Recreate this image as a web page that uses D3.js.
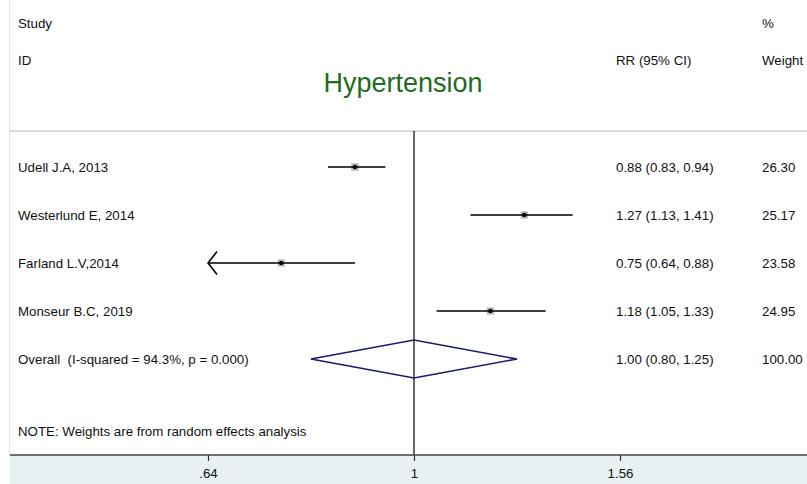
<!DOCTYPE html>
<html>
<head>
<meta charset="utf-8">
<script src="https://cdn.jsdelivr.net/npm/d3@7/dist/d3.min.js"></script>
<style>
  html, body { margin: 0; padding: 0; background: #fff; }
  svg text { font-family: "Liberation Sans", Arial, sans-serif; fill: #111; white-space: pre; }
</style>
</head>
<body>
<div id="chart"></div>
<script>
// dati dello studio
const studies = ["Udell J.A, 2013", "Westerlund E, 2014", "Farland L.V,2014", "Monseur B.C, 2019"];
const rr = [0.88, 1.27, 0.75, 1.18];
const lower = [0.83, 1.13, 0.64, 1.05];
const upper = [0.94, 1.41, 0.88, 1.33];
const weights = [26.30, 25.17, 23.58, 24.95];
const ciLabels = ["0.88 (0.83, 0.94)", "1.27 (1.13, 1.41)", "0.75 (0.64, 0.88)", "1.18 (1.05, 1.33)"];

const overallLabel = "Overall  (I-squared = 94.3%, p = 0.000)";
const overall = { rr: 1.00, lo: 0.80, hi: 1.25, weight: "100.00", ci: "1.00 (0.80, 1.25)" };

const tickValues = [0.64, 1, 1.5625];
const tickLabels = [".64", "1", "1.56"];

const W = 807, H = 484;
const plotTop = 131, plotBottom = 455;
const FS = 13.3;

const svg = d3.select("#chart").append("svg")
  .attr("width", W)
  .attr("height", H);

// scala logaritmica per RR
const x = d3.scaleLog().domain([0.64, 1.5625]).range([208, 620]);
const xMin = x.domain()[0];

// righe: 4 studi + overall
const y = d3.scaleLinear().domain([0, 1]).range([167, 215]);

// banda dell'asse in basso
svg.append("rect")
  .attr("x", 10).attr("y", plotBottom)
  .attr("width", W - 10).attr("height", H - plotBottom)
  .attr("fill", "#e8f0f3");

// bordino sinistro e linea grigia in alto
svg.append("line")
  .attr("x1", 9.5).attr("x2", 9.5).attr("y1", 0).attr("y2", plotBottom)
  .attr("stroke", "#e4e4e4");
svg.append("line")
  .attr("x1", 10).attr("x2", W).attr("y1", plotTop).attr("y2", plotTop)
  .attr("stroke", "#cfcfcf").attr("stroke-width", 1.5);

// intestazioni
const header = svg.append("g").attr("font-size", FS);
header.append("text").attr("x", 18).attr("y", 23).attr("dy", ".35em").text("Study");
header.append("text").attr("x", 18).attr("y", 60).attr("dy", ".35em").text("ID");
header.append("text").attr("x", 616).attr("y", 60).attr("dy", ".35em").text("RR (95% CI)");
header.append("text").attr("x", 762).attr("y", 23).attr("dy", ".35em").text("%");
header.append("text").attr("x", 762).attr("y", 60).attr("dy", ".35em").text("Weight");

svg.append("text")
  .attr("x", 403).attr("y", 83).attr("dy", ".35em")
  .attr("text-anchor", "middle")
  .attr("font-size", 27)
  .style("fill", "#1f6b1f")
  .text("Hypertension");

// linea di nessun effetto
svg.append("line")
  .attr("x1", x(1)).attr("x2", x(1))
  .attr("y1", plotTop).attr("y2", plotBottom)
  .attr("stroke", "#000").attr("stroke-width", 1.2);

// studi
const size = d3.scaleSqrt().domain([0, 30]).range([0, 8]);
const rows = svg.append("g").selectAll("g")
  .data(studies.map((s, i) => ({ s, i, rr: rr[i], lo: lower[i], hi: upper[i], w: weights[i], ci: ciLabels[i] })))
  .enter().append("g");

rows.append("rect")
  .attr("x", d => x(d.rr) - size(d.w) / 2)
  .attr("y", d => y(d.i) - size(d.w) / 2)
  .attr("width", d => size(d.w))
  .attr("height", d => size(d.w))
  .attr("fill", "#b9b9b9");

rows.append("line")
  .attr("x1", d => x(Math.max(d.lo, xMin)))
  .attr("x2", d => x(d.hi))
  .attr("y1", d => y(d.i)).attr("y2", d => y(d.i))
  .attr("stroke", "#000").attr("stroke-width", 1.6);

// freccia quando l'IC esce dall'asse (0.64 arrotondato)
rows.filter(d => d.lo <= xMin)
  .append("path")
  .attr("d", d => {
    const x0 = x(xMin), y0 = y(d.i);
    return "M" + (x0 + 9) + "," + (y0 - 11.5) + "L" + x0 + "," + y0 + "L" + (x0 + 9) + "," + (y0 + 11.5);
  })
  .attr("fill", "none").attr("stroke", "#000").attr("stroke-width", 1.6);

rows.append("circle")
  .attr("cx", d => x(d.rr)).attr("cy", d => y(d.i))
  .attr("r", 2.2).attr("fill", "#000");

rows.append("text").attr("font-size", FS)
  .attr("x", 18).attr("y", d => y(d.i)).attr("dy", ".35em").text(d => d.s);
rows.append("text").attr("font-size", FS)
  .attr("x", 616).attr("y", d => y(d.i)).attr("dy", ".35em").text(d => d.ci);
rows.append("text").attr("font-size", FS)
  .attr("x", 762).attr("y", d => y(d.i)).attr("dy", ".35em").text(d => d.w.toFixed(2));

// overall (diamante)
const yo = y(4);
svg.append("path")
  .attr("d", "M" + x(overall.lo) + "," + yo +
    "L" + x(overall.rr) + "," + (yo - 19) +
    "L" + x(overall.hi) + "," + yo +
    "L" + x(overall.rr) + "," + (yo + 19) + "Z")
  .attr("fill", "none").attr("stroke", "#1b1b6b").attr("stroke-width", 1.6);

svg.append("text").attr("font-size", FS)
  .attr("x", 18).attr("y", yo).attr("dy", ".35em").text(overallLabel);
svg.append("text").attr("font-size", FS)
  .attr("x", 616).attr("y", yo).attr("dy", ".35em").text(overall.ci);
svg.append("text").attr("font-size", FS)
  .attr("x", 762).attr("y", yo).attr("dy", ".35em").text(overall.weight);

svg.append("text").attr("font-size", FS)
  .attr("x", 18).attr("y", y(5.5)).attr("dy", ".35em")
  .text("NOTE: Weights are from random effects analysis");

// asse x
const axis = svg.append("g")
  .attr("transform", "translate(0," + plotBottom + ")")
  .call(d3.axisBottom(x).tickValues(tickValues).tickFormat((d, i) => tickLabels[i]).tickSize(6).tickPadding(8));
axis.select(".domain").remove();
axis.selectAll(".tick line").attr("stroke", "#333").attr("stroke-width", 1.2);
axis.selectAll(".tick text").attr("font-size", FS).style("fill", "#111");

svg.append("line")
  .attr("x1", 10).attr("x2", W).attr("y1", plotBottom).attr("y2", plotBottom)
  .attr("stroke", "#3f4444").attr("stroke-width", 1.6);
</script>
</body>
</html>
